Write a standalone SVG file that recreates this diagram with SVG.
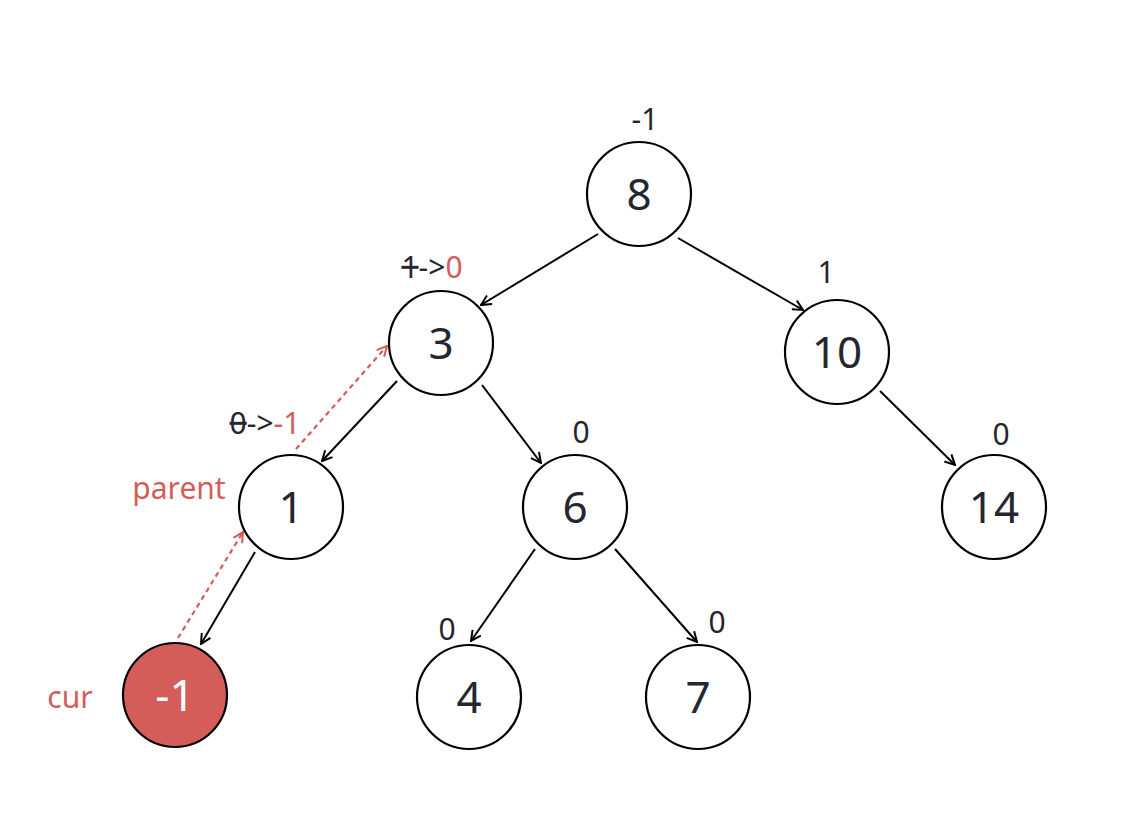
<svg xmlns="http://www.w3.org/2000/svg" width="1131" height="837" viewBox="0 0 1131 837">
<defs>
<style>
.node circle{fill:#fff;stroke:#000;stroke-width:2.2}
.node text{font-family:"Noto Sans","Liberation Sans",sans-serif;font-size:44px;fill:#262630;text-anchor:middle}
.lbl{font-family:"Noto Sans","Liberation Sans",sans-serif;font-size:30px;fill:#262630;text-anchor:middle}
.red{fill:#d45d5a}
.edge{stroke:#000;stroke-width:2;fill:none;marker-end:url(#ah)}
.dash{stroke:#d45d5a;stroke-width:2.2;fill:none;stroke-dasharray:5 4;marker-end:url(#ahr)}
</style>
<marker id="ah" viewBox="0 0 12 12" refX="11" refY="6" markerWidth="12" markerHeight="12" markerUnits="userSpaceOnUse" orient="auto">
<path d="M1,1 L11,6 L1,11" fill="none" stroke="#000" stroke-width="2"/>
</marker>
<marker id="ahr" viewBox="0 0 12 12" refX="11" refY="6" markerWidth="12" markerHeight="12" markerUnits="userSpaceOnUse" orient="auto">
<path d="M1,1 L11,6 L1,11" fill="none" stroke="#d45d5a" stroke-width="2"/>
</marker>
</defs>
<rect width="1131" height="837" fill="#fff"/>
<g id="connectors">
<line class="edge" x1="598" y1="234" x2="481" y2="305"/>
<line class="edge" x1="678" y1="238" x2="803" y2="310"/>
<line class="edge" x1="397" y1="381" x2="322" y2="461"/>
<line class="edge" x1="482" y1="385" x2="541" y2="463"/>
<line class="edge" x1="880" y1="391" x2="955" y2="465"/>
<line class="edge" x1="255" y1="552" x2="201" y2="644"/>
<line class="edge" x1="535" y1="549" x2="471" y2="641"/>
<line class="edge" x1="615" y1="549" x2="697" y2="642"/>
<line class="dash" x1="178" y1="638" x2="243" y2="532"/>
<line class="dash" x1="296" y1="449" x2="387" y2="346"/>
</g>
<g id="n8" class="node"><circle cx="639" cy="194" r="52"/><text x="639" y="210">8</text></g>
<g id="n3" class="node"><circle cx="441" cy="343" r="52"/><text x="441" y="359">3</text></g>
<g id="n10" class="node"><circle cx="837" cy="352" r="52"/><text x="837" y="368">10</text></g>
<g id="n1" class="node"><circle cx="291" cy="507" r="52"/><text x="291" y="523">1</text></g>
<g id="n6" class="node"><circle cx="575" cy="507" r="52"/><text x="575" y="523">6</text></g>
<g id="n14" class="node"><circle cx="994" cy="507" r="52"/><text x="994" y="523">14</text></g>
<g id="nm1" class="node"><circle cx="175" cy="695" r="52" style="fill:#d45d5a"/><text x="175" y="711" style="fill:#fff">-1</text></g>
<g id="n4" class="node"><circle cx="469" cy="697" r="52"/><text x="469" y="713">4</text></g>
<g id="n7" class="node"><circle cx="698" cy="697" r="52"/><text x="698" y="713">7</text></g>
<g id="labels">
<text class="lbl" x="645" y="130">-1</text>
<text class="lbl" x="432" y="278"><tspan text-decoration="line-through">1</tspan>-&gt;<tspan class="red">0</tspan></text>
<text class="lbl" x="826" y="283">1</text>
<text class="lbl" x="265" y="434"><tspan text-decoration="line-through">0</tspan>-&gt;<tspan class="red">-1</tspan></text>
<text class="lbl" x="581" y="443">0</text>
<text class="lbl" x="1001" y="445">0</text>
<text class="lbl" x="447" y="640">0</text>
<text class="lbl" x="717" y="633">0</text>
<text class="lbl red" x="179" y="499">parent</text>
<text class="lbl red" x="70" y="708">cur</text>
</g>
</svg>
